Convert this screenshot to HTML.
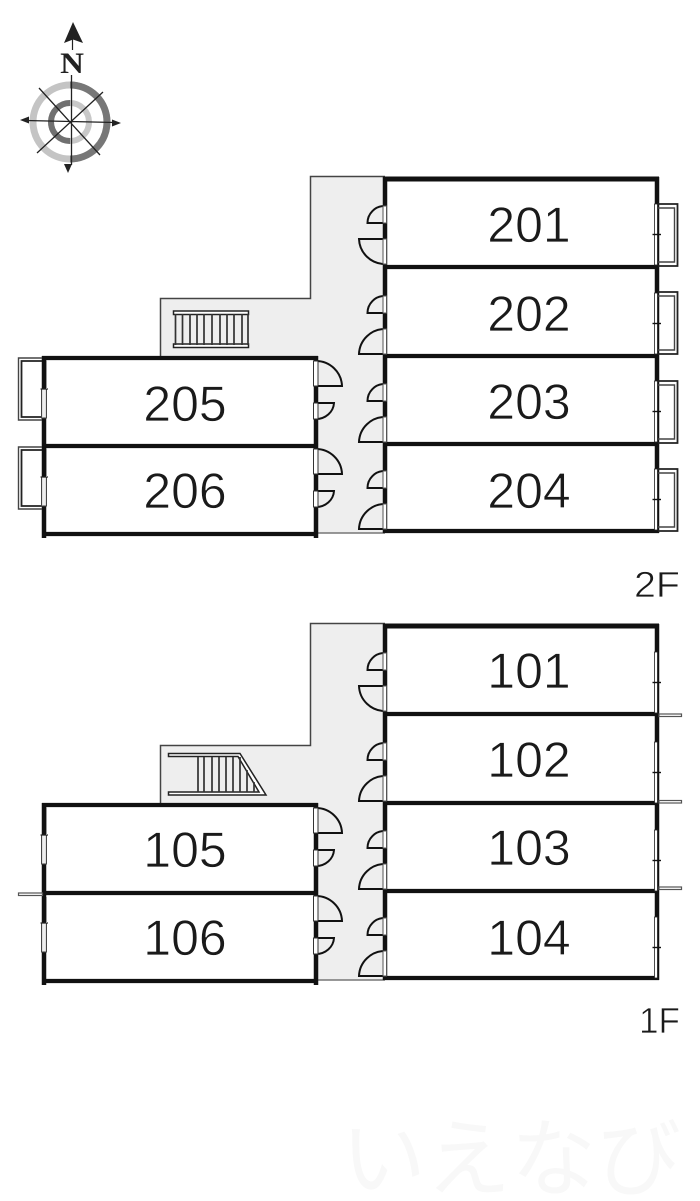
<!DOCTYPE html>
<html><head><meta charset="utf-8"><style>
html,body{margin:0;padding:0;background:#fff}
svg{display:block}
text{font-family:"Liberation Sans",sans-serif;fill:#1a1a1a}
.n{stroke:#fff;stroke-width:.7px}
</style></head><body>
<svg width="700" height="1201" viewBox="0 0 700 1201" xmlns="http://www.w3.org/2000/svg">
<defs>
<g id="sd" fill="none" stroke="#111" stroke-width="2"><path d="M385 17H367.500A17 17 0 0 1 384 0"/><rect x="383" y="0" width="3.500" height="17" fill="#fff" stroke="#555" stroke-width="1"/></g>
<g id="ldt" fill="none" stroke="#111" stroke-width="2"><path d="M385 0H359A26 26 0 0 0 385 25"/><rect x="383" y="0" width="3.500" height="25" fill="#fff" stroke="#555" stroke-width="1"/></g>
<g id="ldb" fill="none" stroke="#111" stroke-width="2"><path d="M385 25H359A26 26 0 0 1 385 0"/><rect x="383" y="0" width="3.500" height="25" fill="#fff" stroke="#555" stroke-width="1"/></g>
<g id="ll" fill="none" stroke="#111" stroke-width="2"><path d="M316 25H342A26 26 0 0 0 316 0"/><rect x="313.500" y="0" width="4.500" height="25" fill="#fff" stroke="#333" stroke-width="1"/></g>
<g id="ls" fill="none" stroke="#111" stroke-width="2"><path d="M316 0H334A18 17 0 0 1 316 16"/><rect x="313.500" y="0" width="4.500" height="16" fill="#fff" stroke="#333" stroke-width="1"/></g>
<g id="winR"><rect x="654.500" y="0" width="3" height="61" fill="#fff" stroke="#222" stroke-width=".8"/><path d="M652.500 30.500H661" stroke="#111" stroke-width="1.400"/></g>
<g id="winL"><rect x="41.500" y="0" width="5" height="29" fill="#ddd" stroke="#444" stroke-width="1"/><path d="M44 1V28" stroke="#fff" stroke-width="1"/><path d="M40.500 0H48" stroke="#222" stroke-width="1.200"/></g>
<g id="balR" fill="none"><path d="M658 0H677.500V62H658" stroke="#222" stroke-width="1.800"/><path d="M658 4H674.500V58H658" stroke="#444" stroke-width="1.400"/></g>
<g id="balL" fill="none"><path d="M42 0H18.500V62H42" stroke="#444" stroke-width="1.400"/><path d="M42 3H21.500V59H42" stroke="#222" stroke-width="1.800"/></g>
<g id="plan">
<path d="M310 176H385V533H318V358H160V298H310Z" fill="#eee" stroke="none"/>
<path d="M160.500 358V298.500H310.500V176.500H385" fill="none" stroke="#444" stroke-width="1.500"/>
<path d="M316 533H385" stroke="#777" stroke-width="1.500"/>
<g fill="none" stroke="#111">
<path d="M385 177V533M657 177V533" stroke-width="4.500"/>
<path d="M383 179H659" stroke-width="5"/>
<path d="M383 267H659M383 356H659M383 444H659M383 531H659" stroke-width="4.200"/>
<path d="M44 356V538M316 356V538" stroke-width="4.500"/>
<path d="M42 358H318M42 446H318M42 534H318" stroke-width="4.200"/>
</g>
<use href="#sd" y="206"/><use href="#ldt" y="239"/>
<use href="#sd" y="296"/><use href="#ldb" y="329"/>
<use href="#sd" y="384"/><use href="#ldb" y="417"/>
<use href="#sd" y="471"/><use href="#ldb" y="504"/>
<use href="#ll" y="361"/><use href="#ls" y="403"/>
<use href="#ll" y="449"/><use href="#ls" y="491"/>
</g>
</defs>

<!-- 2F -->
<use href="#plan"/>
<use href="#balR" y="204"/><use href="#balR" y="292"/><use href="#balR" y="381"/><use href="#balR" y="469"/>
<use href="#winR" y="204"/><use href="#winR" y="293"/><use href="#winR" y="381"/><use href="#winR" y="469"/>
<use href="#balL" y="358"/><use href="#balL" y="447"/>
<use href="#winL" y="389"/><use href="#winL" y="477"/>
<path d="M46.500 360V389M46.500 448V477" stroke="#999" stroke-width="1"/>
<!-- 2F stairs -->
<g fill="#fff" stroke="#222" stroke-width="1.500"><rect x="173.500" y="311" width="75" height="3.500"/><rect x="173.500" y="344" width="75" height="3.500"/></g>
<path d="M175.500 314V345M182.500 314V345M190 314V345M197 314V345M204 314V345M212 314V345M220 314V345M227 314V345M234 314V345M242 314V345M248 314V345" stroke="#333" stroke-width="1.700"/>

<!-- 1F -->
<g transform="translate(0,447)"><use href="#plan"/></g>
<use href="#winR" y="652"/><use href="#winR" y="742"/><use href="#winR" y="830"/><use href="#winR" y="917"/>
<g fill="#fff" stroke="#555" stroke-width="1.200">
<rect x="659" y="714" width="22.500" height="2.500"/><rect x="659" y="800.500" width="22.500" height="2.500"/><rect x="659" y="887" width="22.500" height="2.500"/>
<rect x="18.500" y="893" width="24" height="2.500"/>
</g>
<use href="#winL" y="835"/><use href="#winL" y="923"/>
<path d="M46.500 807V835M46.500 897V923" stroke="#999" stroke-width="1"/>
<!-- 1F stairs -->
<g fill="#fff" stroke="#222" stroke-width="1.500">
<path d="M168.500 753.500H240L266 795H168.500V792H259L238 756.500H168.500Z"/>
</g>
<path d="M198 757V792M204 757V792M212 757V792M219 757V792M226 757V792M233 757V792M240 757V792M247 770V792M254 782V792" stroke="#333" stroke-width="1.700"/>

<!-- compass -->
<g fill="none">
<circle cx="70" cy="122" r="37" stroke="#c4c4c4" stroke-width="7"/>
<path d="M70 85A37 37 0 0 1 70 159" stroke="#777" stroke-width="7"/>
<circle cx="70" cy="122" r="19" stroke="#c8c8c8" stroke-width="6"/>
<path d="M70 103A19 19 0 0 0 70 141" stroke="#707070" stroke-width="6"/>
<path d="M71.500 75V165M26 120.500L115 122.500M39 88L100 155M37 153L103 92" stroke="#222" stroke-width="1.300"/>
</g>
<g fill="#222">
<path d="M20 120L29 116.500V123.500Z"/>
<path d="M121 123L112 119.500V126.500Z"/>
<path d="M68 173L64 164H72Z"/>
<path d="M73 22L83 43L73 39.500L64 43Z"/>
<path d="M72.500 38V50" stroke="#222" stroke-width="1.200"/>
</g>
<text transform="translate(72,73) scale(1.1,1)" text-anchor="middle" style="font-family:'Liberation Serif',serif;font-weight:bold;font-size:30px;fill:#222">N</text>

<!-- labels -->
<g font-size="50" text-anchor="middle" class="n">
<text x="529" y="242" class="n">201</text>
<text x="529" y="331" class="n">202</text>
<text x="529" y="419" class="n">203</text>
<text x="529" y="508" class="n">204</text>
<text x="185" y="421" class="n">205</text>
<text x="185" y="508" class="n">206</text>
<text x="529" y="688" class="n">101</text>
<text x="529" y="777" class="n">102</text>
<text x="529" y="865" class="n">103</text>
<text x="529" y="955" class="n">104</text>
<text x="185" y="867" class="n">105</text>
<text x="185" y="955" class="n">106</text>
</g>
<text x="634" y="597" font-size="36" textLength="46" lengthAdjust="spacingAndGlyphs" class="n">2F</text>
<text x="639" y="1033" font-size="36" textLength="41" lengthAdjust="spacingAndGlyphs" class="n">1F</text>
<text x="341" y="1189" font-size="85" style="font-family:'Liberation Sans','Noto Sans CJK JP',sans-serif;fill:#f8f8f8">いえなび</text>
</svg>
</body></html>
